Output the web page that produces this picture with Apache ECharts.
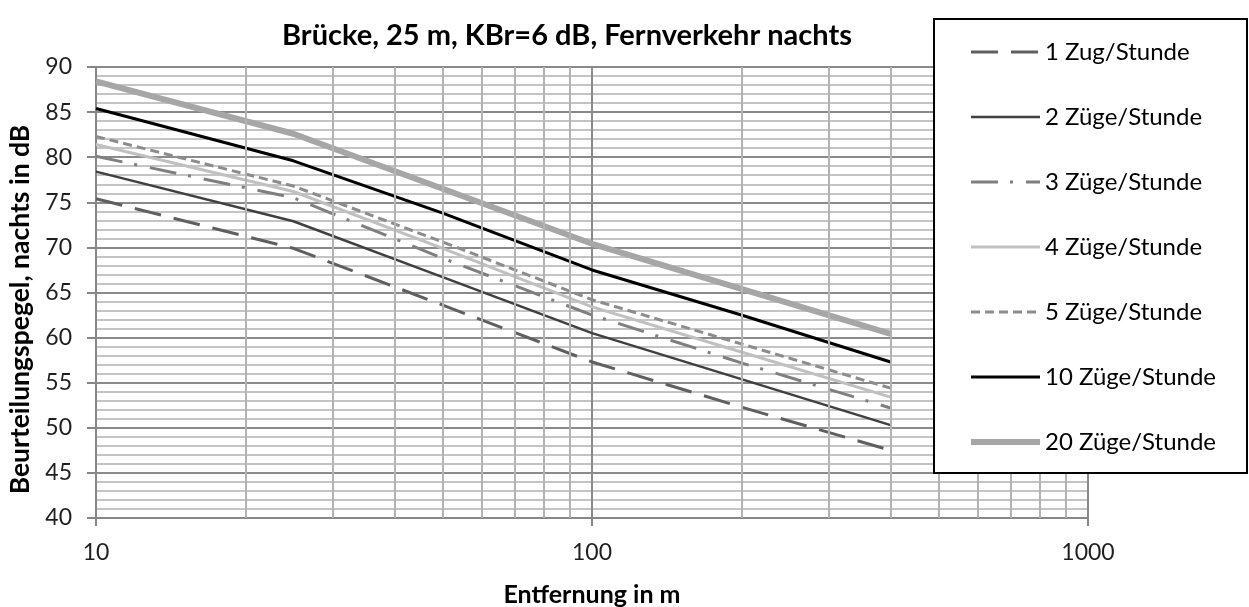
<!DOCTYPE html>
<html>
<head>
<meta charset="utf-8">
<title>Brücke, 25 m, KBr=6 dB, Fernverkehr nachts</title>
<script src="https://cdn.jsdelivr.net/npm/echarts@6/dist/echarts.min.js"></script>
<style>
  html, body { margin: 0; padding: 0; background: #ffffff; }
  #chart { width: 1249px; height: 607px; }
</style>
</head>
<body>
<div id="chart"></div>
<script>
// Distances in m (log axis) at which the levels are given
const distances = [10, 25, 50, 100, 200, 400];

// Beurteilungspegel nachts in dB per train frequency
const zug1  = [75.4, 69.9, 63.6, 57.3, 52.3, 47.5];
const zug2  = [78.4, 72.9, 66.7, 60.5, 55.4, 50.3];
const zug3  = [80.1, 75.5, 68.8, 62.5, 57.2, 52.2];
const zug4  = [81.4, 76.2, 69.9, 63.4, 58.4, 53.4];
const zug5  = [82.3, 76.8, 70.6, 64.2, 59.3, 54.4];
const zug10 = [85.4, 79.6, 73.8, 67.5, 62.5, 57.3];
const zug20 = [88.4, 82.6, 76.5, 70.4, 65.4, 60.4];

const seriesNames = [
  '1 Zug/Stunde', '2 Züge/Stunde', '3 Züge/Stunde', '4 Züge/Stunde',
  '5 Züge/Stunde', '10 Züge/Stunde', '20 Züge/Stunde'
];

// Minor vertical grid positions of the logarithmic distance axis
const minorDistances = [20, 30, 40, 50, 60, 70, 80, 90, 200, 300, 400, 500, 600, 700, 800, 900];

const FONT = 'Lato';

function pairs(values) {
  return distances.map((d, i) => [d, values[i]]);
}

const styles = [
  { color: '#5f5f5f', width: 3,   type: [27, 13] },
  { color: '#404040', width: 2.5, type: 'solid' },
  { color: '#7f7f7f', width: 3,   type: [27, 12, 3, 13] },
  { color: '#c0c0c0', width: 3,   type: 'solid' },
  { color: '#8c8c8c', width: 3,   type: [9, 5] },
  { color: '#000000', width: 3,   type: 'solid' },
  { color: '#a6a6a6', width: 6,   type: 'solid' }
];
const values = [zug1, zug2, zug3, zug4, zug5, zug10, zug20];

const series = values.map((v, i) => ({
  name: seriesNames[i],
  type: 'line',
  data: pairs(v),
  symbol: 'none',
  showSymbol: false,
  z: 3,
  color: styles[i].color,
  lineStyle: { color: styles[i].color, width: styles[i].width, type: styles[i].type, cap: 'butt' }
}));

// Minor vertical grid lines, placed through the log axis scale
series.push({
  type: 'line',
  data: [],
  silent: true,
  z: 1,
  markLine: {
    silent: true,
    symbol: 'none',
    label: { show: false },
    animation: false,
    lineStyle: { color: '#b3b3b3', width: 2, type: 'solid' },
    data: minorDistances.map(d => ({ xAxis: d }))
  }
});

const chart = echarts.init(document.getElementById('chart'), null, { renderer: 'canvas' });

chart.setOption({
  animation: false,
  backgroundColor: '#ffffff',
  textStyle: { fontFamily: FONT },
  title: {
    text: 'Brücke, 25 m, KBr=6 dB, Fernverkehr nachts',
    left: 562,
    top: 16,
    textAlign: 'center',
    textStyle: { fontFamily: FONT, fontWeight: 'bold', fontSize: 29, color: '#000000' }
  },
  grid: {
    left: 96, right: 161, top: 67, bottom: 89,
    containLabel: false,
    outerBoundsMode: 'none'
  },
  xAxis: {
    type: 'log',
    logBase: 10,
    min: 10,
    max: 1000,
    name: 'Entfernung in m',
    nameLocation: 'middle',
    nameGap: 64,
    nameTextStyle: { fontFamily: FONT, fontWeight: 'bold', fontSize: 25, color: '#000000' },
    axisLine: { show: true, onZero: false, lineStyle: { color: '#868686', width: 2 } },
    axisTick: { show: true, length: 8, lineStyle: { color: '#868686', width: 2 } },
    axisLabel: {
      fontFamily: FONT, fontSize: 23, color: '#1f1f1f', margin: 23,
      formatter: v => String(v)
    },
    splitLine: { show: true, lineStyle: { color: '#8a8a8a', width: 2 } }
  },
  yAxis: {
    type: 'value',
    min: 40,
    max: 90,
    interval: 5,
    name: 'Beurteilungspegel, nachts in dB',
    nameLocation: 'middle',
    nameGap: 60,
    nameRotate: 90,
    nameTextStyle: {
      fontFamily: FONT, fontWeight: 'bold', fontSize: 26.5, color: '#000000',
      padding: [0, 34, 0, 0]
    },
    axisLine: { show: true, lineStyle: { color: '#868686', width: 2 } },
    axisTick: { show: true, length: 9, lineStyle: { color: '#868686', width: 2 } },
    axisLabel: { fontFamily: FONT, fontSize: 23, color: '#1f1f1f', margin: 24 },
    splitLine: { show: true, lineStyle: { color: '#8a8a8a', width: 2 } },
    minorTick: { show: false, splitNumber: 5 },
    minorSplitLine: { show: true, lineStyle: { color: '#c4c4c4', width: 2 } }
  },
  graphic: [{
    type: 'rect',
    zlevel: 1,
    z: 0,
    shape: { x: 934, y: 19, width: 313, height: 454 },
    style: { fill: '#ffffff', stroke: '#000000', lineWidth: 2 }
  }],
  legend: {
    orient: 'vertical',
    left: 968,
    top: 38,
    padding: 0,
    zlevel: 1,
    z: 10,
    itemWidth: 69,
    itemHeight: 14,
    itemGap: 37,
    data: seriesNames,
    lineStyle: { width: 'inherit', type: 'inherit', color: 'inherit' },
    itemStyle: { opacity: 0, color: 'rgba(0,0,0,0)', borderWidth: 0 },
    textStyle: { fontFamily: FONT, fontSize: 24, color: '#000000', lineHeight: 28 }
  },
  series: series
});
</script>
</body>
</html>
